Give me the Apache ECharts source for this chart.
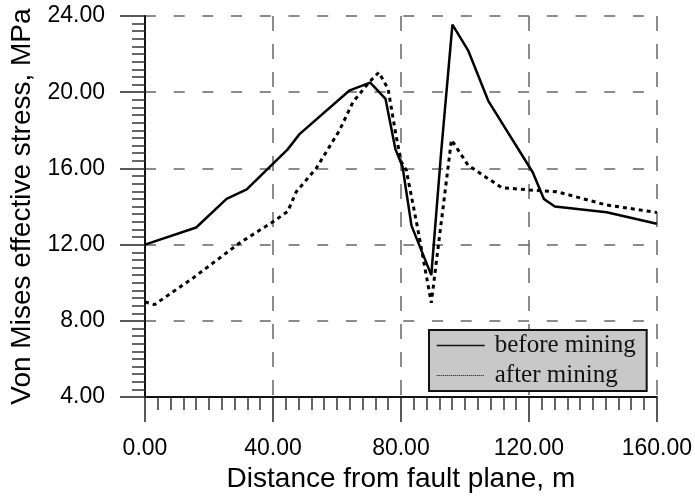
<!DOCTYPE html>
<html><head><meta charset="utf-8">
<script src="https://cdn.jsdelivr.net/npm/echarts@6/dist/echarts.min.js"></script>
<style>html,body{margin:0;padding:0;background:#fff}#c{width:695px;height:498px}</style>
</head><body><div id="c"></div>
<script>
// Distance from fault plane (m) and von Mises stress (MPa)
const beforeDist   = [0, 16.0, 25.5, 31.8, 44.6, 48.3, 64.0, 70.4, 75.2, 78.3, 80.5, 83.3, 89.5, 92.6, 96.1, 101.0, 107.3, 121.2, 124.7, 128.1, 144.3, 160];
const beforeStress = [12.0, 12.9, 14.4, 14.9, 17.0, 17.8, 20.1, 20.5, 19.65, 17.0, 16.1, 13.0, 10.4, 16.9, 23.55, 22.2, 19.55, 15.8, 14.4, 14.0, 13.7, 13.1];
const afterDist    = [0, 2.9, 14.4, 29.5, 40.0, 44.6, 47.3, 53.5, 60.8, 65.0, 70.2, 73.1, 76.0, 78.4, 80.1, 81.7, 85.3, 89.5, 95.8, 101.0, 111.5, 120.3, 128.7, 144.3, 160];
const afterStress  = [9.0, 8.85, 10.17, 12.08, 13.2, 13.74, 14.78, 16.0, 18.0, 19.48, 20.55, 21.04, 20.17, 17.8, 16.35, 15.9, 12.8, 8.95, 17.5, 16.17, 14.99, 14.87, 14.78, 14.08, 13.69];
const seriesNames  = ['before mining', 'after mining'];
const xTickValues  = [0, 40, 80, 120, 160];
const yTickValues  = [4, 8, 12, 16, 20, 24];

const pairs = (xs, ys) => xs.map((x, i) => [x, ys[i]]);
const chart = echarts.init(document.getElementById('c'), null, {renderer: 'canvas'});
const sans = 'Liberation Sans, Arial, sans-serif';
chart.setOption({
  animation: false,
  backgroundColor: '#fff',
  grid: {left: 145, right: 38, top: 16, bottom: 98},
  xAxis: {
    type: 'value', min: xTickValues[0], max: xTickValues[xTickValues.length - 1], interval: 40,
    name: 'Distance from fault plane, m', nameLocation: 'middle', nameGap: 64,
    nameTextStyle: {fontFamily: sans, fontSize: 28, color: '#000'},
    axisLine: {show: true, onZero: false, lineStyle: {color: '#111', width: 2}},
    axisTick: {show: true, length: 25, lineStyle: {color: '#222', width: 1.5}},
    minorTick: {show: true, splitNumber: 10, length: 13, lineStyle: {color: '#333', width: 1.5}},
    axisLabel: {margin: 40, fontFamily: sans, fontSize: 23, color: '#000', formatter: v => v.toFixed(2)},
    splitLine: {show: true, lineStyle: {color: '#666', width: 1.5, type: [15, 13]}}
  },
  yAxis: {
    type: 'value', min: yTickValues[0], max: yTickValues[yTickValues.length - 1], interval: 4,
    name: 'Von Mises effective stress, MPa', nameLocation: 'middle', nameGap: 104,
    nameTextStyle: {fontFamily: sans, fontSize: 28, color: '#000'},
    axisLine: {show: true, onZero: false, lineStyle: {color: '#111', width: 2}},
    axisTick: {show: true, length: 25, lineStyle: {color: '#222', width: 1.5}},
    minorTick: {show: true, splitNumber: 10, length: 13, lineStyle: {color: '#333', width: 1.5}},
    axisLabel: {margin: 40, fontFamily: sans, fontSize: 23, color: '#000', formatter: v => v.toFixed(2)},
    splitLine: {show: true, lineStyle: {color: '#666', width: 1.5, type: [11, 17.7]}}
  },
  legend: {
    orient: 'vertical', left: 429, top: 330,
    backgroundColor: '#c8c8c8', borderColor: '#111', borderWidth: 2,
    padding: [3, 11, 3, 7], itemGap: 5, itemWidth: 48, itemHeight: 24,
    itemStyle: {opacity: 0},
    textStyle: {fontFamily: 'Liberation Serif, Times New Roman, serif', fontSize: 25, color: '#111', padding: [0, 0, 0, 5]},
    data: [
      {name: seriesNames[0], itemStyle: {opacity: 0}, lineStyle: {width: 1.5, type: 'solid', color: '#111'}},
      {name: seriesNames[1], itemStyle: {opacity: 0}, lineStyle: {width: 1, type: [1, 1], color: '#111'}}
    ]
  },
  series: [
    {type: 'line', name: seriesNames[0], data: pairs(beforeDist, beforeStress), symbol: 'none',
     itemStyle: {color: '#000'}, lineStyle: {color: '#000', width: 2.5}},
    {type: 'line', name: seriesNames[1], data: pairs(afterDist, afterStress), symbol: 'none',
     itemStyle: {color: '#000'}, lineStyle: {color: '#000', width: 3, type: [4, 4]}}
  ]
});
</script></body></html>
